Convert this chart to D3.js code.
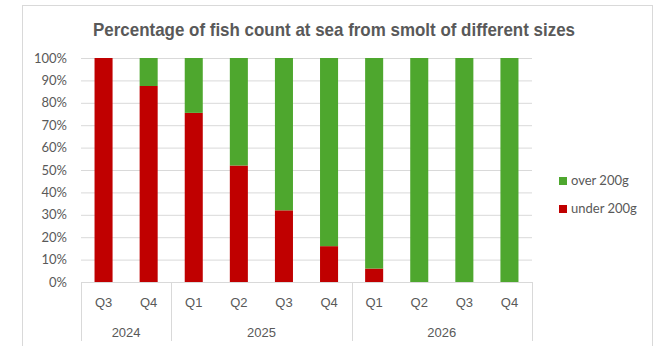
<!DOCTYPE html>
<html>
<head>
<meta charset="utf-8">
<script src="https://cdn.jsdelivr.net/npm/d3@7"></script>
<style>
  body { margin: 0; background: #fff; }
  svg { display: block; }
</style>
</head>
<body>
<svg width="657" height="346"></svg>
<script>
// data
const years = ['2024', '2025', '2026'];
const quarters = [['Q3', 'Q4'], ['Q1', 'Q2', 'Q3', 'Q4'], ['Q1', 'Q2', 'Q3', 'Q4']];
const under200 = [100, 87.5, 75.5, 52, 32, 16, 6, 0, 0, 0];
const yTicks = [0, 10, 20, 30, 40, 50, 60, 70, 80, 90, 100];
const seriesNames = ['over 200g', 'under 200g'];
const seriesColors = ['#4EA72E', '#C00000'];

const svg = d3.select('svg');
const txtCol = '#595959';
const gridCol = '#d9d9d9';

// outer chart frame
svg.append('rect')
   .attr('x', 22.5).attr('y', 5.5)
   .attr('width', 630).attr('height', 360)
   .style('fill', 'none')
   .style('stroke', '#d9d9d9')
   .style('stroke-width', '1px');

// flatten categories
let cats = [];
quarters.forEach((qs, gi) => qs.forEach(q => cats.push({year: years[gi], q: q, key: years[gi] + q})));
cats.forEach((c, i) => { c.under = under200[i]; c.over = 100 - under200[i]; });

const x = d3.scaleBand()
            .domain(cats.map(c => c.key))
            .range([81, 532])
            .paddingInner(0.6)
            .paddingOuter(0.3);

const y = d3.scaleLinear().domain([0, 100]).range([282, 58]);

// gridlines + y labels
const yAxis = svg.append('g')
                 .attr('transform', 'translate(81,0)')
                 .call(d3.axisLeft(y).tickValues(yTicks).tickFormat(d => d + '%').tickSize(-451).tickPadding(14));
yAxis.select('.domain').remove();
yAxis.selectAll('.tick line').style('stroke', gridCol);
yAxis.selectAll('.tick text')
     .style('fill', txtCol)
     .style('font-size', '13px')
     .style('font-family', 'Lato');

// stacked bars
const stack = d3.stack().keys(['under', 'over'])(cats);
const colorOf = {under: seriesColors[1], over: seriesColors[0]};

svg.append('g').selectAll('g')
   .data(stack)
   .enter()
   .append('g')
   .style('fill', d => colorOf[d.key])
   .selectAll('rect')
   .data(d => d)
   .enter()
   .append('rect')
   .attr('x', d => x(d.data.key))
   .attr('width', x.bandwidth())
   .attr('y', d => y(d[1]))
   .attr('height', d => y(d[0]) - y(d[1]));

// category axis (two levels)
const catG = svg.append('g');
catG.append('line')
    .attr('x1', 81).attr('x2', 532)
    .attr('y1', 282.5).attr('y2', 282.5)
    .style('stroke', gridCol);

let step = x.step();
let start = 81;
let bounds = [start];
quarters.forEach(qs => { start += qs.length * step; bounds.push(start); });

catG.selectAll('.sep')
    .data(bounds)
    .enter()
    .append('line')
    .attr('x1', d => Math.round(d) + 0.5).attr('x2', d => Math.round(d) + 0.5)
    .attr('y1', 282).attr('y2', 341)
    .style('stroke', gridCol);

catG.selectAll('.qlab')
    .data(cats)
    .enter()
    .append('text')
    .text(d => d.q)
    .attr('x', d => x(d.key) + x.bandwidth() / 2)
    .attr('y', 307)
    .style('text-anchor', 'middle')
    .style('fill', txtCol)
    .style('font-size', '13px')
    .style('font-family', 'Liberation Sans');

catG.selectAll('.ylab')
    .data(years)
    .enter()
    .append('text')
    .text(d => d)
    .attr('x', (d, i) => (bounds[i] + bounds[i + 1]) / 2)
    .attr('y', 337)
    .style('text-anchor', 'middle')
    .style('fill', txtCol)
    .style('font-size', '13px')
    .style('font-family', 'Liberation Sans');

// title
svg.append('text')
   .text('Percentage of fish count at sea from smolt of different sizes')
   .attr('x', 334)
   .attr('y', 36)
   .style('text-anchor', 'middle')
   .style('fill', txtCol)
   .style('font-size', '19px')
   .style('font-weight', 'bold')
   .style('font-family', 'Liberation Sans Narrow, Liberation Sans')
   .attr('textLength', 482)
   .attr('lengthAdjust', 'spacingAndGlyphs');

// legend
const leg = svg.append('g').attr('transform', 'translate(559, 177)');
const legItems = leg.selectAll('g')
                    .data(seriesNames)
                    .enter()
                    .append('g')
                    .attr('transform', (d, i) => `translate(0, ${i * 28})`);
legItems.append('rect')
        .attr('width', 8).attr('height', 8)
        .style('fill', (d, i) => seriesColors[i]);
legItems.append('text')
        .text(d => d)
        .attr('x', 12)
        .attr('y', 8)
        .style('fill', txtCol)
        .style('font-size', '13px')
        .style('font-family', 'Lato');
</script>
</body>
</html>
